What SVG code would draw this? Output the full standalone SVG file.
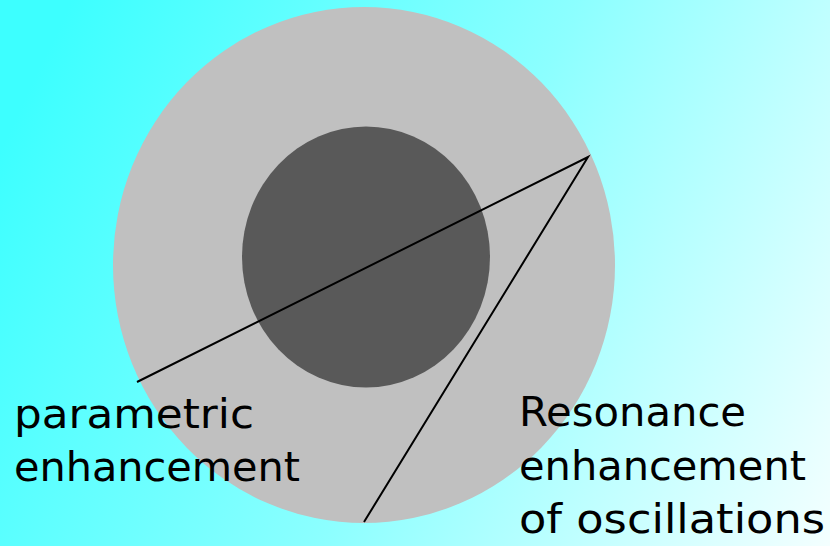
<svg xmlns="http://www.w3.org/2000/svg" width="830" height="546" viewBox="0 0 830 546">
<defs>
<linearGradient id="bg" gradientUnits="userSpaceOnUse" x1="0" y1="150" x2="830" y2="546">
<stop offset="0" stop-color="#3DFFFF"/>
<stop offset="0.5" stop-color="#8CFFFF"/>
<stop offset="1" stop-color="#F4FFFF"/>
</linearGradient>
<style>
.lbl{font-family:"DejaVu Sans","Liberation Sans",sans-serif;font-size:40px;fill:#000}
.ln{stroke:#000;stroke-width:2;fill:none}
</style>
</defs>
<rect width="830" height="546" fill="url(#bg)"/>
<g id="outer"><ellipse cx="364" cy="265" rx="251" ry="258" fill="#C0C0C0"/></g>
<g id="inner"><ellipse cx="366" cy="257" rx="124" ry="130.5" fill="#595959"/></g>
<g id="connectors">
<polyline class="ln" points="137,382 588,157 364,522"/>
</g>
<g id="label-parametric">
<text class="lbl" x="14" y="428" textLength="240" lengthAdjust="spacingAndGlyphs">parametric</text>
<text class="lbl" x="14" y="481" textLength="286" lengthAdjust="spacingAndGlyphs">enhancement</text>
</g>
<g id="label-resonance">
<text class="lbl" x="519" y="426" textLength="227" lengthAdjust="spacingAndGlyphs">Resonance</text>
<text class="lbl" x="519" y="480" textLength="287" lengthAdjust="spacingAndGlyphs">enhancement</text>
<text class="lbl" x="519" y="533" textLength="306" lengthAdjust="spacingAndGlyphs">of oscillations</text>
</g>
</svg>
